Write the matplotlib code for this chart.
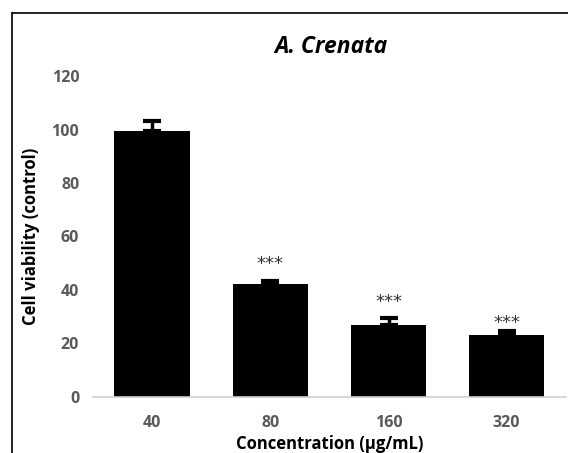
import matplotlib
matplotlib.use("Agg")
import matplotlib.pyplot as plt
from matplotlib.lines import Line2D

# -----------------------
# Data
# -----------------------

concentrations = ["40", "80", "160", "320"]
viability = [99.3, 42.4, 26.8, 23.3]
sem = [4.0, 1.1, 2.8, 1.3]
significance = ["", "***", "***", "***"]
y_ticks = [0, 20, 40, 60, 80, 100, 120]

plt.rcParams["font.family"] = ["Open Sans", "DejaVu Sans"]

fig = plt.figure(figsize=(5.68, 4.53), dpi=100)
ax = fig.add_axes([0.164, 0.124, 0.832, 0.708])

x = range(len(concentrations))

ax.bar(
    x,
    viability,
    width=0.64,
    color="black",
    yerr=[[0] * len(sem), sem],
    error_kw=dict(ecolor="black", elinewidth=2.5, capsize=6.5, capthick=3),
)

# significance stars, nudged a little per bar like the original
star_lift = [0, 12, 11, 6]
for i, label in enumerate(significance):
    if label:
        ax.annotate(
            label,
            xy=(i, viability[i] + sem[i]),
            xytext=(0, star_lift[i]),
            textcoords="offset points",
            ha="center",
            va="center",
            fontsize=13,
            family="DejaVu Sans",
            color="#333333",
        )

ax.set_xlim(-0.5, 3.5)
ax.set_ylim(0, 120)
ax.set_yticks(y_ticks)
ax.set_xticks(list(x))
ax.set_xticklabels(concentrations)

for side in ["top", "right", "left"]:
    ax.spines[side].set_visible(False)
ax.spines["bottom"].set_color("#d0d0d0")
ax.spines["bottom"].set_linewidth(1.2)

ax.tick_params(axis="both", length=0, labelsize=11.5, labelcolor="#595959")
ax.tick_params(axis="x", pad=13)
ax.tick_params(axis="y", pad=10)
for lbl in ax.get_xticklabels() + ax.get_yticklabels():
    lbl.set_fontweight("bold")

ax.set_xlabel("Concentration (μg/mL)", fontsize=12, fontweight="bold", labelpad=3)
ax.set_ylabel("Cell viability (control)", fontsize=12, fontweight="bold", labelpad=8)

fig.text(0.583, 0.897, "A. Crenata", fontsize=16.5, fontweight="bold",
         fontstyle="italic", ha="center", va="center")

# frame lines on top and left of the picture
fig.add_artist(Line2D([12 / 568, 1], [1 - 13 / 453, 1 - 13 / 453],
                      transform=fig.transFigure, color="black", lw=1.2))
fig.add_artist(Line2D([12 / 568, 12 / 568], [0, 1 - 13 / 453],
                      transform=fig.transFigure, color="black", lw=1.2))

fig.savefig("out.png", dpi=100)
